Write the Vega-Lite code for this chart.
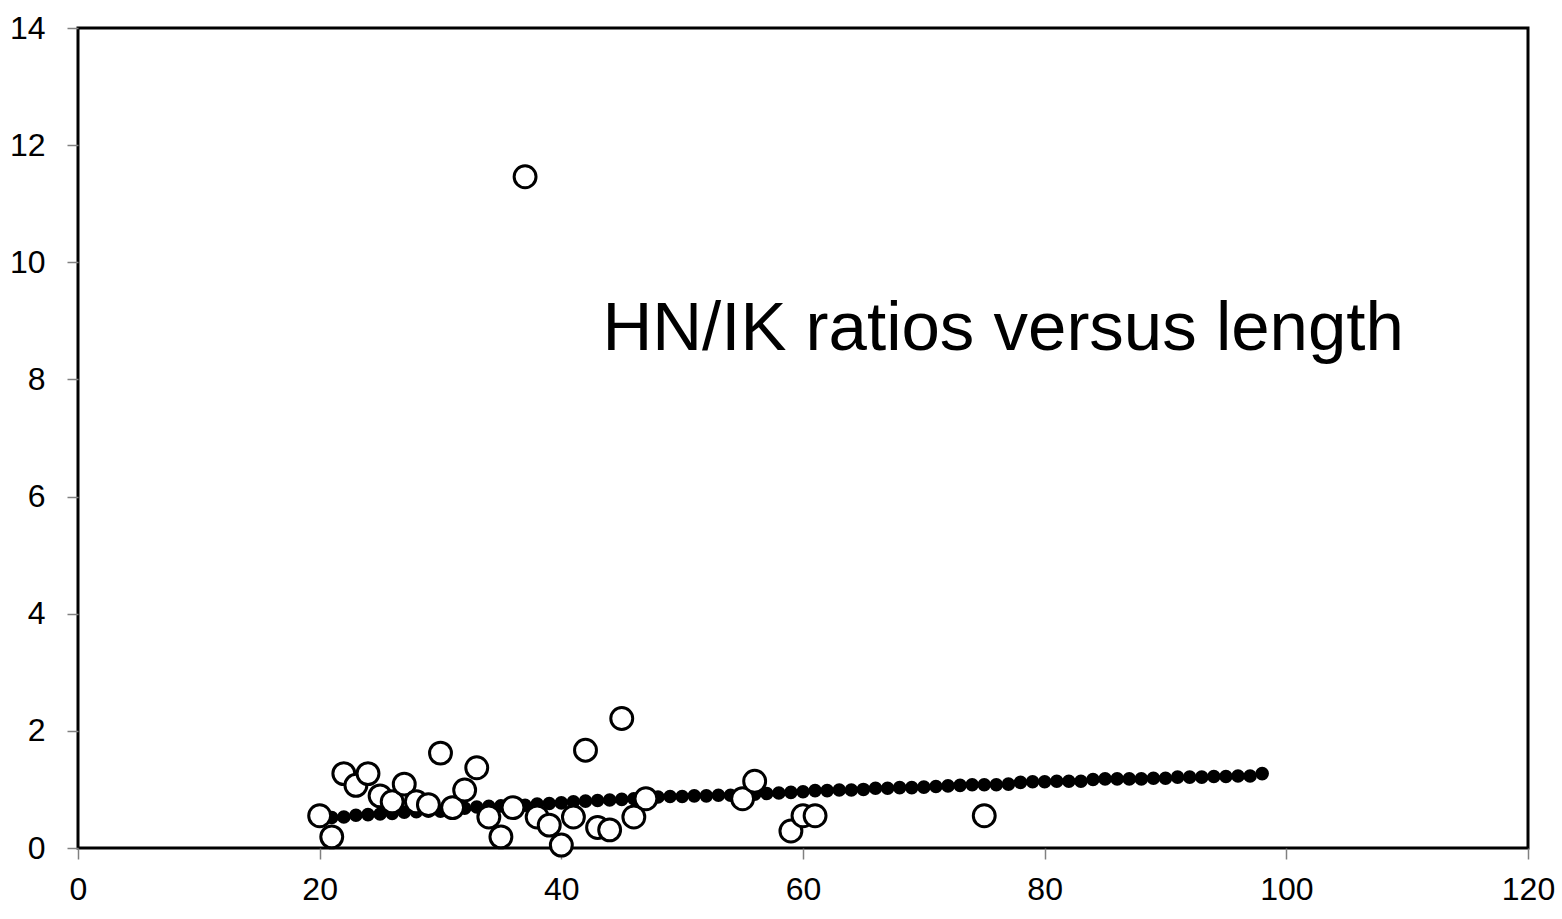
{
  "$schema": "https://vega.github.io/schema/vega-lite/v6.json",
  "autosize": "none",
  "width": 1450,
  "height": 820,
  "padding": {"left": 78, "top": 28, "right": 34, "bottom": 71},
  "background": "white",
  "config": {
    "view": {"stroke": "black", "strokeWidth": 3},
    "font": "Liberation Sans"
  },
  "datasets": {
    "fitted": [
      {"length": 21, "ratio": 0.52}, {"length": 22, "ratio": 0.53}, {"length": 23, "ratio": 0.56},
      {"length": 24, "ratio": 0.57}, {"length": 25, "ratio": 0.58}, {"length": 26, "ratio": 0.59},
      {"length": 27, "ratio": 0.61}, {"length": 28, "ratio": 0.62}, {"length": 29, "ratio": 0.63},
      {"length": 30, "ratio": 0.63}, {"length": 31, "ratio": 0.65}, {"length": 32, "ratio": 0.68},
      {"length": 33, "ratio": 0.70}, {"length": 34, "ratio": 0.71}, {"length": 35, "ratio": 0.72},
      {"length": 36, "ratio": 0.73}, {"length": 37, "ratio": 0.73}, {"length": 38, "ratio": 0.75},
      {"length": 39, "ratio": 0.76}, {"length": 40, "ratio": 0.77}, {"length": 41, "ratio": 0.79},
      {"length": 42, "ratio": 0.80}, {"length": 43, "ratio": 0.81}, {"length": 44, "ratio": 0.82},
      {"length": 45, "ratio": 0.83}, {"length": 46, "ratio": 0.84}, {"length": 47, "ratio": 0.86},
      {"length": 48, "ratio": 0.87}, {"length": 49, "ratio": 0.88}, {"length": 50, "ratio": 0.88},
      {"length": 51, "ratio": 0.89}, {"length": 52, "ratio": 0.89}, {"length": 53, "ratio": 0.90},
      {"length": 54, "ratio": 0.90}, {"length": 55, "ratio": 0.91}, {"length": 56, "ratio": 0.92},
      {"length": 57, "ratio": 0.93}, {"length": 58, "ratio": 0.94}, {"length": 59, "ratio": 0.95},
      {"length": 60, "ratio": 0.96}, {"length": 61, "ratio": 0.98}, {"length": 62, "ratio": 0.98},
      {"length": 63, "ratio": 0.99}, {"length": 64, "ratio": 0.99}, {"length": 65, "ratio": 1.00},
      {"length": 66, "ratio": 1.02}, {"length": 67, "ratio": 1.02}, {"length": 68, "ratio": 1.03},
      {"length": 69, "ratio": 1.03}, {"length": 70, "ratio": 1.04}, {"length": 71, "ratio": 1.05},
      {"length": 72, "ratio": 1.06}, {"length": 73, "ratio": 1.07}, {"length": 74, "ratio": 1.08},
      {"length": 75, "ratio": 1.08}, {"length": 76, "ratio": 1.08}, {"length": 77, "ratio": 1.09},
      {"length": 78, "ratio": 1.12}, {"length": 79, "ratio": 1.13}, {"length": 80, "ratio": 1.13},
      {"length": 81, "ratio": 1.14}, {"length": 82, "ratio": 1.14}, {"length": 83, "ratio": 1.14},
      {"length": 84, "ratio": 1.17}, {"length": 85, "ratio": 1.18}, {"length": 86, "ratio": 1.18},
      {"length": 87, "ratio": 1.18}, {"length": 88, "ratio": 1.18}, {"length": 89, "ratio": 1.19},
      {"length": 90, "ratio": 1.19}, {"length": 91, "ratio": 1.21}, {"length": 92, "ratio": 1.21},
      {"length": 93, "ratio": 1.21}, {"length": 94, "ratio": 1.22}, {"length": 95, "ratio": 1.22},
      {"length": 96, "ratio": 1.23}, {"length": 97, "ratio": 1.23}, {"length": 98, "ratio": 1.27}
    ],
    "observed": [
      {"length": 20, "ratio": 0.55}, {"length": 21, "ratio": 0.19}, {"length": 22, "ratio": 1.27},
      {"length": 23, "ratio": 1.07}, {"length": 24, "ratio": 1.27}, {"length": 25, "ratio": 0.89},
      {"length": 26, "ratio": 0.79}, {"length": 27, "ratio": 1.09}, {"length": 28, "ratio": 0.79},
      {"length": 29, "ratio": 0.74}, {"length": 30, "ratio": 1.62}, {"length": 31, "ratio": 0.69},
      {"length": 32, "ratio": 0.99}, {"length": 33, "ratio": 1.37}, {"length": 34, "ratio": 0.53},
      {"length": 35, "ratio": 0.19}, {"length": 36, "ratio": 0.69}, {"length": 37, "ratio": 11.46},
      {"length": 38, "ratio": 0.53}, {"length": 39, "ratio": 0.39}, {"length": 40, "ratio": 0.05},
      {"length": 41, "ratio": 0.53}, {"length": 42, "ratio": 1.67}, {"length": 43, "ratio": 0.35},
      {"length": 44, "ratio": 0.31}, {"length": 45, "ratio": 2.21}, {"length": 46, "ratio": 0.53},
      {"length": 47, "ratio": 0.84}, {"length": 55, "ratio": 0.84}, {"length": 56, "ratio": 1.14},
      {"length": 59, "ratio": 0.29}, {"length": 60, "ratio": 0.55}, {"length": 61, "ratio": 0.55},
      {"length": 75, "ratio": 0.55}
    ],
    "note": [{"label": "HN/IK ratios versus length", "length": 43.4, "ratio": 8.5}]
  },
  "layer": [
    {
      "data": {"name": "fitted"},
      "mark": {"type": "point", "shape": "circle", "filled": true, "color": "black", "opacity": 1, "size": 185, "clip": false},
      "encoding": {
        "x": {
          "field": "length", "type": "quantitative",
          "scale": {"domain": [0, 120], "nice": false, "zero": false},
          "axis": {
            "title": null, "values": [0, 20, 40, 60, 80, 100, 120], "format": "d", "domain": false, "grid": false,
            "tickColor": "#808080", "tickWidth": 1.5, "tickSize": 11,
            "labelFontSize": 32, "labelColor": "black", "labelPadding": 15, "labelFont": "Liberation Sans",
            "labelFlush": false, "labelOverlap": false
          }
        },
        "y": {
          "field": "ratio", "type": "quantitative",
          "scale": {"domain": [0, 14], "nice": false, "zero": false},
          "axis": {
            "title": null, "values": [0, 2, 4, 6, 8, 10, 12, 14], "format": "d", "domain": false, "grid": false,
            "tickColor": "#808080", "tickWidth": 1.5, "tickSize": 11,
            "labelFontSize": 32, "labelColor": "black", "labelPadding": 22, "labelFont": "Liberation Sans",
            "labelFlush": false, "labelOverlap": false
          }
        }
      }
    },
    {
      "data": {"name": "observed"},
      "mark": {"type": "point", "shape": "circle", "filled": false, "fill": "white", "fillOpacity": 1, "stroke": "black", "strokeWidth": 3, "opacity": 1, "size": 480, "clip": false},
      "encoding": {
        "x": {"field": "length", "type": "quantitative"},
        "y": {"field": "ratio", "type": "quantitative"}
      }
    },
    {
      "data": {"name": "note"},
      "mark": {"type": "text", "align": "left", "baseline": "alphabetic", "fontSize": 69, "font": "Liberation Sans", "color": "black"},
      "encoding": {
        "x": {"field": "length", "type": "quantitative"},
        "y": {"field": "ratio", "type": "quantitative"},
        "text": {"field": "label", "type": "nominal"}
      }
    }
  ]
}
